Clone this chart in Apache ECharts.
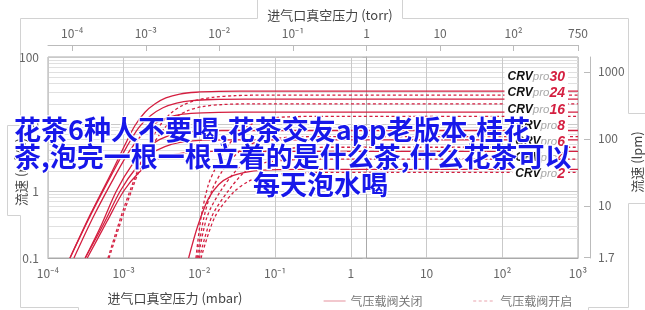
<!DOCTYPE html>
<html><head><meta charset="utf-8">
<script src="https://cdn.jsdelivr.net/npm/echarts@6/dist/echarts.min.js"></script>
<style>html,body{margin:0;padding:0;background:#fff}#c{width:645px;height:310px}</style>
</head><body><div id="c"></div>
<script>
// ---- data ----
const mbarTickLabels = ['10⁻⁴','10⁻³','10⁻²','10⁻¹','1','10','10²','10³'];
const flowTickLabels = ['0.1','1','10','100'];
const torrTickValues = [1e-4,1e-3,1e-2,1e-1,1,10,100,750];
const torrTickLabels = ['10⁻⁴','10⁻³','10⁻²','10⁻¹','1','10','10²','750'];
const lpmTickValues = [1.7,10,100,1000];
const lpmTickLabels = ['1.7','10','100','1000'];
const models = ['30','24','16','8','6','4','2'];
const legendNames = ['气压载阀关闭','气压载阀开启'];

// gas ballast closed (solid) : [mbar, m3/h]
const closed30 = [[1.95e-4,0.1],[3.6e-4,0.44],[6.6e-4,1.7],[1.04e-3,4.9],[1.41e-3,9.5],[1.91e-3,15],[2.6e-3,20],[3.6e-3,24.5],[5.5e-3,28],[9e-3,29.8],[1.8e-2,30.6],[6.3e-2,31],[1000,31]];
const closed24 = [[1.95e-4,0.1],[3.7e-4,0.45],[7.0e-4,1.8],[1.1e-3,4.6],[1.6e-3,9.0],[2.3e-3,13.5],[3.3e-3,17.5],[5.0e-3,20.5],[8.0e-3,22.3],[1.5e-2,23.2],[4e-2,23.5],[1000,23.5]];
const closed16 = [[2.2e-4,0.1],[4.0e-4,0.42],[7.5e-4,1.6],[1.2e-3,4.0],[1.8e-3,7.2],[2.6e-3,10.2],[3.8e-3,12.5],[6.0e-3,14.0],[1.1e-2,14.7],[3.0e-2,15],[1000,15]];
const closed8 = [[3.1e-4,0.1],[5.0e-4,0.3],[8.0e-4,1.0],[1.3e-3,2.5],[2.0e-3,4.3],[3.0e-3,5.9],[4.6e-3,7.0],[8.0e-3,7.7],[2.0e-2,8.0],[1000,8.0]];
const closed6 = [[3.1e-4,0.1],[5.5e-4,0.33],[9.0e-4,1.0],[1.5e-3,2.3],[2.3e-3,3.6],[3.5e-3,4.6],[5.5e-3,5.3],[1.0e-2,5.7],[3.0e-2,5.8],[1000,5.8]];
const closed4 = [[3.3e-4,0.1],[6.0e-4,0.35],[1.0e-3,1.0],[1.6e-3,1.9],[2.5e-3,2.8],[4.0e-3,3.4],[7.0e-3,3.75],[1.5e-2,3.9],[1000,3.9]];
const closed2 = [[7.2e-3,0.1],[9.5e-3,0.3],[1.3e-2,0.75],[1.8e-2,1.25],[2.6e-2,1.65],[4.0e-2,1.9],[7.0e-2,2.05],[0.2,2.1],[1000,2.1]];
// gas ballast open (dashed)
const open30 = [[6.2e-4,0.1],[1.0e-3,0.55],[1.54e-3,2.06],[2.2e-3,5.2],[3.0e-3,9.5],[4.2e-3,14.5],[6.0e-3,19],[9e-3,22.5],[1.5e-2,25],[3e-2,26.5],[8e-2,27],[1000,27]];
const open24 = [[6.4e-4,0.1],[1.05e-3,0.55],[1.6e-3,2.0],[2.4e-3,4.8],[3.4e-3,8.5],[4.8e-3,12.5],[7e-3,15.8],[1.1e-2,18.2],[2e-2,19.5],[5e-2,20],[1000,20]];
const open16 = [[9.0e-3,0.1],[1.05e-2,0.4],[1.3e-2,1.2],[1.6e-2,2.1],[2.1e-2,3.8],[2.8e-2,6.0],[3.8e-2,8.4],[5.5e-2,10.6],[8e-2,12],[0.15,12.8],[0.4,13],[1000,13]];
const open8 = [[9.3e-3,0.1],[1.15e-2,0.41],[1.5e-2,1.1],[2.05e-2,2.06],[2.8e-2,3.2],[4e-2,4.5],[6e-2,5.5],[0.1,6.1],[0.2,6.4],[0.5,6.5],[1000,6.5]];
const open6 = [[9.6e-3,0.1],[1.26e-2,0.41],[1.9e-2,1.0],[3.1e-2,2.06],[4.5e-2,3.0],[7e-2,3.8],[0.12,4.25],[0.25,4.45],[0.6,4.5],[1000,4.5]];
const open4 = [[1.0e-2,0.1],[1.45e-2,0.41],[2.4e-2,1.0],[4.2e-2,2.06],[6.5e-2,2.55],[0.1,2.8],[0.2,2.95],[0.5,3.0],[1000,3.0]];
const open2 = [[1.05e-2,0.1],[1.6e-2,0.41],[2.8e-2,0.95],[4.5e-2,1.4],[7e-2,1.65],[0.12,1.8],[0.3,1.88],[0.8,1.9],[1000,1.9]];

const closedSets = [closed30,closed24,closed16,closed8,closed6,closed4,closed2];
const openSets = [open30,open24,open16,open8,open6,open4,open2];

const titleLines = ['花茶6种人不要喝,花茶交友app老版本,桂花','茶,泡完一根一根立着的是什么茶,什么花茶可以','每天泡水喝'];

// ---- chart ----
const RED = '#d41f40';
const GRID = '#c9c9c9';
const FONT = '"Noto Sans CJK SC","Noto Sans",sans-serif';
const chart = echarts.init(document.getElementById('c'), null, {renderer:'canvas'});

const series = [];
closedSets.forEach((d,i)=>series.push({
  name: legendNames[0], type:'line', data:d, xAxisIndex:0, yAxisIndex:0,
  symbol:'none', smooth:0.3, z:3,
  lineStyle:{color:RED,width:1.3,type:'solid'}, itemStyle:{color:RED}, silent:true
}));
openSets.forEach((d,i)=>series.push({
  name: legendNames[1], type:'line', data:d, xAxisIndex:0, yAxisIndex:0,
  symbol:'none', smooth:0.3, z:3,
  lineStyle:{color:RED,width:1.3,type:[3,2.5]}, itemStyle:{color:RED}, silent:true
}));

const labelYs = [77,93,110,126,142,158,174];
const graphics = [
  {type:'polyline', silent:true, shape:{points:[[78.5,310],[78.5,307.5],[20.5,307.5],[20.5,215.5],[7.5,215.5],[7.5,125.5],[20.5,125.5],[20.5,18.5],[257.5,18.5],[257.5,0]]}, style:{fill:null,stroke:'#d2d2d2',lineWidth:1}},
  {type:'polyline', silent:true, shape:{points:[[402.5,0],[402.5,18.5],[628.5,18.5],[628.5,113.5],[645,113.5]]}, style:{fill:null,stroke:'#d2d2d2',lineWidth:1}},
  {type:'polyline', silent:true, shape:{points:[[645,203.5],[628.5,203.5],[628.5,307.5],[588.5,307.5],[588.5,310]]}, style:{fill:null,stroke:'#d2d2d2',lineWidth:1}},
  {type:'text', x:330, y:15, silent:true, style:{text:'进气口真空压力 (torr)', fill:'#444', font:'13px '+FONT, align:'center', verticalAlign:'middle'}},
  {type:'text', x:175, y:298, silent:true, style:{text:'进气口真空压力 (mbar)', fill:'#444', font:'13px '+FONT, align:'center', verticalAlign:'middle'}},
  {type:'text', x:21, y:172, rotation:Math.PI/2, silent:true, style:{text:'流速 (m³/h)', fill:'#444', font:'13px '+FONT, align:'center', verticalAlign:'middle'}},
  {type:'text', x:637, y:162, rotation:Math.PI/2, silent:true, style:{text:'流速 (lpm)', fill:'#444', font:'13px '+FONT, align:'center', verticalAlign:'middle'}}
];
models.forEach((m,i)=>graphics.push({
  type:'text', x:568, y:labelYs[i], z:4, silent:true,
  style:{
    text:'{a|CRV}{b|pro}{c|'+m+'}', align:'right', verticalAlign:'middle',
    backgroundColor:'#fff', padding:[2,3,2,3],
    rich:{
      a:{fontFamily:'Liberation Sans', fontStyle:'italic', fontWeight:'bold', fontSize:12, fill:'#111'},
      b:{fontFamily:'Liberation Sans', fontStyle:'italic', fontSize:11.5, fill:'#a8a8a8'},
      c:{fontFamily:'Liberation Sans', fontStyle:'italic', fontWeight:'bold', fontSize:14, fill:RED}
    }
  }
}));

const titleStyle = {color:'#1717ea', fontSize:27, fontWeight:'bold', fontFamily:FONT, textBorderColor:'#fff', textBorderWidth:2.5};

chart.setOption({
  animation:false,
  backgroundColor:'#fff',
  title:[
    {text:titleLines[0], left:14, top:116, padding:0, z:50, zlevel:0, textStyle:titleStyle},
    {text:titleLines[1], left:14, top:143, padding:0, z:50, zlevel:0, textStyle:titleStyle},
    {text:titleLines[2], left:253, top:171, padding:0, z:50, zlevel:0, textStyle:titleStyle}
  ],
  legend:{
    data:legendNames, left:318, top:290, itemWidth:22, itemHeight:10, itemGap:50,
    itemStyle:{opacity:0}, lineStyle:{color:'#e9a3ad', width:1.2},
    textStyle:{color:'#777', fontSize:12, fontFamily:FONT}, selectedMode:false
  },
  grid:{left:48, right:67, top:57, bottom:52, show:true, borderColor:'#aaa', borderWidth:1, backgroundColor:'#fff'},
  xAxis:[
    {type:'log', logBase:10, min:1e-4, max:1e3, position:'bottom',
     axisLine:{show:true, lineStyle:{color:'#aaa'}}, axisTick:{show:false},
     splitLine:{show:true, lineStyle:{color:GRID, width:1}},
     axisLabel:{margin:9, color:'#666', fontSize:12, fontFamily:FONT,
       formatter:v=>mbarTickLabels[Math.round(Math.log10(v))+4]}},
    {type:'value', position:'top', offset:12, min:-4.33, max:Math.log10(750),
     axisLine:{show:true, lineStyle:{color:'#bbb'}},
     axisTick:{show:true, inside:true, length:6, lineStyle:{color:'#bbb'}, customValues:torrTickValues.map(v=>Math.log10(v))},
     splitLine:{show:false},
     axisLabel:{margin:6, color:'#666', fontSize:12, fontFamily:FONT, customValues:torrTickValues.map(v=>Math.log10(v)),
       formatter:v=>{let i=torrTickValues.findIndex(t=>Math.abs(Math.log10(t)-v)<1e-6);return i>=0?torrTickLabels[i]:'';}}}
  ],
  yAxis:[
    {type:'log', logBase:10, min:0.1, max:100, position:'left',
     axisLine:{show:true, lineStyle:{color:'#aaa'}},
     axisTick:{show:true, length:4, lineStyle:{color:'#bbb'}},
     minorTick:{show:false, splitNumber:9},
     splitLine:{show:true, lineStyle:{color:GRID}},
     minorSplitLine:{show:true, lineStyle:{color:'#e0e0e0'}},
     axisLabel:{margin:9, color:'#666', fontSize:12, fontFamily:FONT,
       formatter:v=>flowTickLabels[Math.round(Math.log10(v))+1]}},
    {type:'value', position:'right', offset:12, min:Math.log10(0.1*1000/60), max:Math.log10(100*1000/60),
     axisLine:{show:true, lineStyle:{color:'#bbb'}},
     axisTick:{show:true, inside:true, length:6, lineStyle:{color:'#bbb'}, customValues:lpmTickValues.map(v=>Math.log10(v))},
     splitLine:{show:false},
     axisLabel:{margin:8, color:'#666', fontSize:12, fontFamily:FONT, customValues:lpmTickValues.map(v=>Math.log10(v)),
       formatter:v=>{let i=lpmTickValues.findIndex(t=>Math.abs(Math.log10(t)-v)<1e-6);return i>=0?lpmTickLabels[i]:'';}}}
  ],
  graphic:{elements:graphics, z:4},
  series:series
});
</script></body></html>
